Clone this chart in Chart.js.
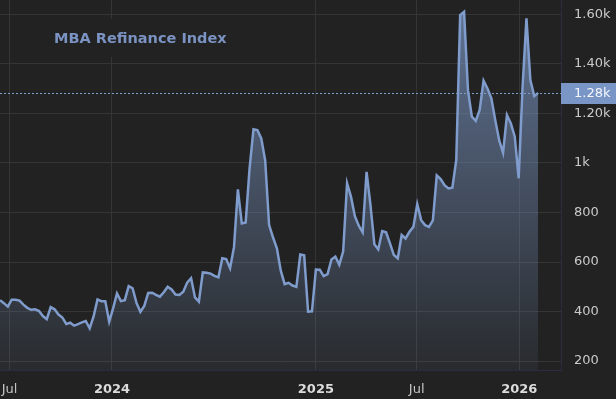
<!DOCTYPE html>
<html>
<head>
<meta charset="utf-8">
<script src="https://cdn.jsdelivr.net/npm/chart.js@4.4.1/dist/chart.umd.min.js"></script>
<style>
  html, body { margin: 0; padding: 0; background: #222222; }
  canvas { display: block; }
</style>
</head>
<body>
<canvas id="c" width="616" height="399"></canvas>
<script>
// ---- data ----
const seriesName = 'MBA Refinance Index';
const firstWeek = '2023-06-14';           // date of first weekly reading
const refiValues = [
  446,434,420,448,448,444,428,415,407,409,
  402,382,369,418,409,388,376,350,355,343,
  349,356,362,332,380,449,442,442,359,413,
  473,442,446,503,494,435,399,423,475,476,
  467,460,478,500,489,469,467,480,517,535,
  457,440,558,557,553,544,538,615,612,575,
  660,893,756,760,978,1136,1133,1099,1010,750,
  700,655,565,511,516,505,500,630,627,400,
  401,570,569,543,551,610,622,589,643,918,
  864,785,747,720,964,830,672,651,725,720,
  675,628,615,709,695,722,742,834,769,749,
  742,768,950,935,910,897,900,1012,1597,1610,
  1294,1187,1170,1214,1332,1301,1261,1173,1092,1041,
  1193,1160,1106,938,1308,1584,1335,1270,1283
];
const xTickDates  = ['2023-07-01','2024-01-01','2025-01-01','2025-07-01','2026-01-01'];
const xTickLabels = ['Jul','2024','2025','Jul','2026'];
const yTickValues = [200,400,600,800,1000,1200,1400,1600];
const yTickLabels = ['200','400','600','800','1k','1.20k','1.40k','1.60k'];
const xRange = ['2023-06-14','2026-03-17'];
const yRange = [164,1658];

// ---- helpers ----
const DAY = 86400000;
function dayNum(s){ const [y,m,d]=s.split('-').map(Number); return Math.round((Date.UTC(y,m-1,d)-Date.UTC(2023,5,14))/DAY); }
const startDay = dayNum(firstWeek);
const points = refiValues.map((v,i)=>({x: startDay + i*7, y: v}));
const xTickDays = xTickDates.map(dayNum);
const lastValue = refiValues[refiValues.length-1];
function fmtK(v){ return v>=1000 ? (v/1000).toFixed(2)+'k' : String(v); }

const BG = '#222222';
const GRID = '#353535';
const LINE = '#7f9ccc';
const FONT = 'DejaVu Sans';

const decor = {
  id:'decor',
  beforeDraw(chart){
    const c = chart.ctx;
    c.save(); c.fillStyle = BG; c.fillRect(0,0,chart.width,chart.height); c.restore();
  },
  beforeDatasetsDraw(chart){
    const c = chart.ctx;
    c.save();
    c.fillStyle = BG;
    c.fillRect(44,19,200,38);
    c.fillStyle = '#7b93c2';
    c.font = 'bold 14.5px "'+FONT+'"';
    c.textBaseline = 'middle';
    c.textAlign = 'left';
    c.fillText(seriesName, 54, 39);
    c.restore();
  },
  afterDraw(chart){
    const c = chart.ctx, a = chart.chartArea, y = chart.scales.y;
    const py = Math.round(y.getPixelForValue(lastValue)) + 0.5;
    c.save();
    c.strokeStyle = LINE; c.lineWidth = 1; c.setLineDash([2,2]);
    c.beginPath(); c.moveTo(a.left, py); c.lineTo(a.right, py); c.stroke();
    c.setLineDash([]);
    c.fillStyle = '#7a96c6';
    c.fillRect(a.right, py-10.5, chart.width - a.right, 21);
    c.fillStyle = '#f4f6fa';
    c.font = '13px "'+FONT+'"';
    c.textBaseline = 'middle'; c.textAlign = 'left';
    c.fillText(fmtK(lastValue), a.right + 13, py+0.5);
    c.restore();
  }
};

new Chart(document.getElementById('c'), {
  type: 'line',
  data: {
    datasets: [{
      data: points,
      borderColor: LINE,
      borderWidth: 2.5,
      pointRadius: 0,
      tension: 0,
      fill: 'start',
      backgroundColor(ctx){
        const a = ctx.chart.chartArea;
        if (!a) return 'rgba(127,155,203,0.3)';
        const g = ctx.chart.ctx.createLinearGradient(0, a.top, 0, a.bottom);
        g.addColorStop(0, 'rgba(127,156,204,0.68)');
        g.addColorStop(1, 'rgba(127,156,204,0.07)');
        return g;
      }
    }]
  },
  options: {
    responsive: false,
    devicePixelRatio: 1,
    animation: false,
    layout: { padding: 0 },
    plugins: { legend: { display: false }, tooltip: { enabled: false } },
    scales: {
      x: {
        type: 'linear',
        min: dayNum(xRange[0]),
        max: dayNum(xRange[1]),
        afterBuildTicks(s){ s.ticks = xTickDays.map(v=>({value:v})); },
        afterFit(s){ s.height = 29; s.paddingLeft = 0; s.paddingRight = 0; s.paddingTop = 0; s.paddingBottom = 0; },
        grid: { color: GRID, drawTicks: false, tickLength: 0 },
        border: { color: '#2b2b46', width: 1 },
        ticks: {
          autoSkip: false, maxRotation: 0, padding: 12,
          callback(v){ const i = xTickDays.indexOf(v); return i>=0 ? xTickLabels[i] : ''; },
          font(ctx){ const l = ctx.tick && xTickLabels[xTickDays.indexOf(ctx.tick.value)]; return { family: FONT, size: 13, weight: (l && /^\d/.test(l)) ? 'bold' : 'normal' }; },
          color(ctx){ const l = ctx.tick && xTickLabels[xTickDays.indexOf(ctx.tick.value)]; return (l && /^\d/.test(l)) ? '#dcdcdc' : '#c4c4c4'; }
        }
      },
      y: {
        type: 'linear',
        position: 'right',
        min: yRange[0],
        max: yRange[1],
        afterBuildTicks(s){ s.ticks = yTickValues.map(v=>({value:v})); },
        afterFit(s){ s.width = 55; s.paddingLeft = 0; s.paddingRight = 0; s.paddingTop = 0; s.paddingBottom = 0; },
        grid: { color: GRID, drawTicks: false, tickLength: 0 },
        border: { color: '#2b2b46', width: 1 },
        ticks: {
          padding: 13, crossAlign: 'near',
          callback(v){ const i = yTickValues.indexOf(v); return i>=0 ? yTickLabels[i] : ''; },
          font: { family: FONT, size: 13 },
          color: '#cacaca'
        }
      }
    }
  },
  plugins: [decor]
});
</script>
</body>
</html>
